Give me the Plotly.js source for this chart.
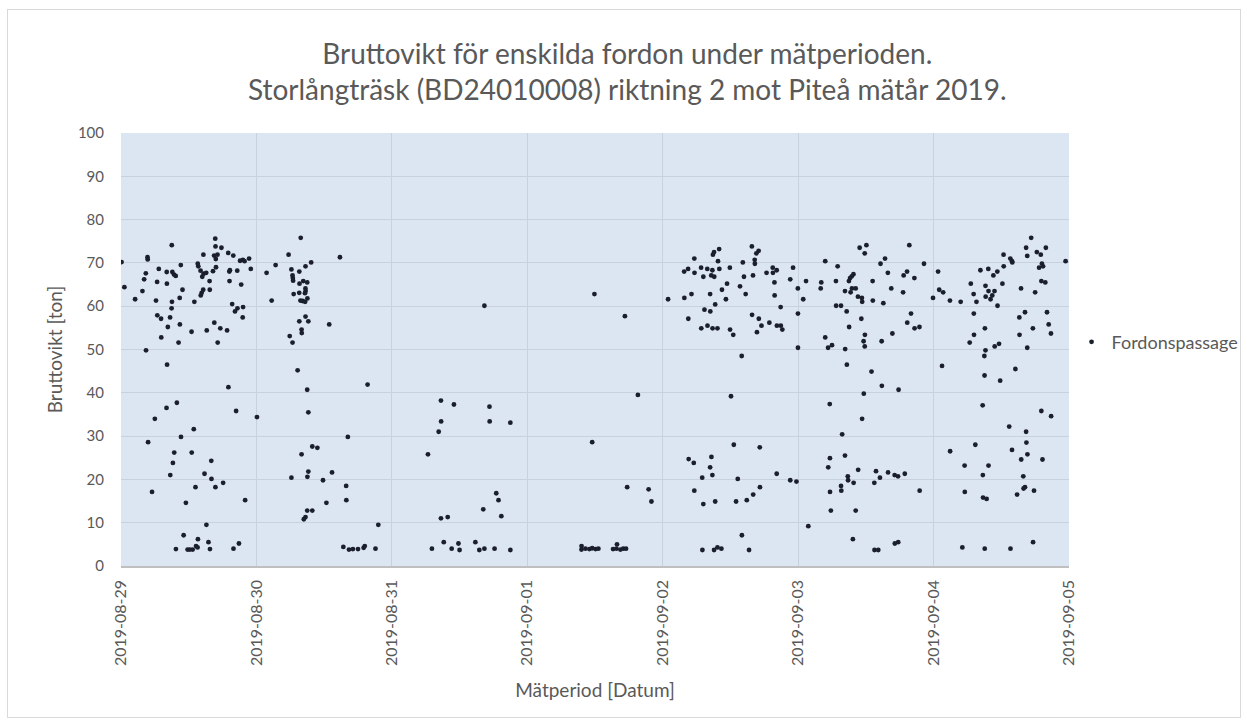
<!DOCTYPE html>
<html>
<head>
<meta charset="utf-8">
<script src="https://cdn.plot.ly/plotly-3.0.1.min.js"></script>
<style>
  html, body { margin: 0; padding: 0; background: #ffffff; }
  #chart { width: 1247px; height: 724px; }
  #frame { position: absolute; left: 7px; top: 9px; width: 1232px; height: 707px; border: 1px solid #d9d9d9; pointer-events: none; }
</style>
</head>
<body>
<div id="chart"></div>
<div id="frame"></div>
<script>
// Days of the measurement period (x-axis ticks)
const tickDays = ['2019-08-29','2019-08-30','2019-08-31','2019-09-01','2019-09-02','2019-09-03','2019-09-04','2019-09-05'];

// Passage time (hours after midnight of the given day) and gross weight [ton]
const day0829 = '2019-08-29';
const hours0829 = [0.1,9.0,16.7,16.75,17.8,4.7,4.73,14.6,16.5,16.8,17.1,19.0,19.9,21.1,21.6,21.9,22.7,10.6,13.6,13.7,16.83,6.7,8.1,9.1,9.4,9.7,4.4,14.1,14.63,15.1,16.3,19.2,19.3,20.6,23.0,25.8,4.1,6.4,8.13,14.4,15.7,19.23,21.3,0.6,3.8,10.9,14.57,14.3,14.13,15.73,2.5,6.2,9.03,10.4,13.0,19.7,8.97,20.63,20.2,21.63,6.43,7.1,8.7,21.57,10.43,8.3,12.5,15.2,16.53,17.6,18.8,7.13,10.2,17.13,4.43,8.17,19.03,9.9,8.07,20.4,24.1,6.0,12.9,10.63,4.8,9.43,12.53,9.2,16.0,8.73,14.8,16.03,18.1,13.2,16.73,5.5,22.0,11.5,15.13,11.1,13.63,15.5,20.9,13.3,13.57,9.73,11.8,12.2,12.7,15.77,19.93];
const weights0829 = [70.2,74.1,75.6,73.8,73.5,71.3,70.8,71.9,71.7,70.9,71.9,72.3,71.7,70.5,70.7,70.4,71.0,69.5,69.8,69.2,69.0,68.6,67.9,67.9,67.3,67.0,67.6,68.2,67.5,67.7,68.1,68.0,68.3,68.2,68.6,67.7,66.2,65.6,65.2,66.8,65.8,65.8,65.0,64.4,63.5,63.8,63.8,63.1,62.5,63.8,61.6,61.3,61.0,61.9,61.0,60.5,59.5,59.5,58.8,59.8,57.9,57.1,57.4,57.4,55.8,55.2,54.1,54.4,56.2,54.9,54.4,52.8,51.6,51.6,49.8,46.5,41.3,37.7,36.5,35.8,34.4,34.0,31.6,29.8,28.6,26.2,26.2,23.8,24.3,21.0,21.3,20.1,19.2,18.2,18.2,17.1,15.2,14.6,9.5,7.1,6.2,5.5,5.2,4.6,4.3,3.9,3.8,3.8,3.8,3.9,4.0];

const day0830 = '2019-08-30';
const hours0830 = [7.85,5.7,14.8,3.4,9.7,8.7,6.2,7.6,6.4,6.45,6.5,7.63,8.3,9.0,8.68,8.72,8.6,6.6,7.58,2.7,7.8,8.2,8.63,9.03,8.7,7.6,9.2,12.9,8.0,8.03,5.9,6.4,7.3,19.7,9.0,9.2,16.2,9.9,10.8,8.0,9.2,9.03,6.2,11.8,13.4,15.9,15.93,12.4,9.0,9.9,8.7,8.4,21.6,15.4,16.4,17.1,18.0,19.0,19.2,21.1];
const weights0830 = [75.8,71.9,71.3,69.5,70.1,69.2,68.5,68.0,67.1,66.5,65.9,65.2,65.8,65.5,64.1,63.5,63.0,62.8,63.1,61.3,61.3,61.2,61.0,61.8,57.6,56.5,56.5,55.8,54.6,53.8,53.1,51.6,45.2,41.9,40.7,35.5,29.8,27.6,27.3,25.8,21.8,20.6,20.4,19.8,21.6,18.5,15.2,14.6,12.8,12.8,11.3,10.8,9.5,4.4,3.8,3.9,3.9,4.2,4.6,4.0];

const day0831 = '2019-08-31';
const hours0831 = [16.4,8.7,11.0,17.3,8.73,17.33,21.0,8.3,6.4,18.5,18.9,16.2,19.4,8.7,9.9,9.2,11.8,14.8,7.1,10.6,12.0,15.5,16.4,18.2,21.0];
const weights0831 = [60.1,38.2,37.3,36.8,33.4,33.4,33.1,31.0,25.8,16.8,15.2,13.1,11.5,11.0,11.3,5.5,5.2,5.5,4.0,4.0,3.7,3.7,4.0,4.0,3.7];

const day0901 = '2019-09-01';
const hours0901 = [11.9,17.3,19.6,11.5,17.7,21.5,22.0,9.6,9.62,10.3,11.0,11.5,12.1,12.6,15.2,15.8,15.9,16.5,17.0,17.5];
const weights0901 = [62.8,57.7,39.5,28.6,18.2,17.7,14.9,3.8,4.6,4.0,3.9,4.1,3.9,4.0,3.9,4.0,5.0,3.8,4.0,4.0];

const day0902 = '2019-09-02';
const hours0902 = [0.95,15.8,10.0,9.1,8.9,17.0,16.6,5.6,16.3,16.33,9.8,14.2,23.1,19.5,20.2,19.53,18.4,6.8,7.9,8.8,10.03,11.9,4.5,3.8,5.63,7.2,8.6,9.13,14.4,16.0,22.6,19.8,11.4,13.7,10.5,5.1,8.4,14.7,19.83,3.83,11.2,9.3,20.9,7.4,8.43,15.83,4.53,17.03,18.9,17.5,20.23,20.93,21.2,6.83,7.93,8.83,9.7,11.93,12.5,16.7,14.0,12.1,12.6,17.2,4.6,5.5,8.63,8.4,8.8,7.0,13.3,20.2,22.6,23.7,5.6,17.23,16.03,7.2,9.3,13.0,14.9,14.03,7.03,9.1,9.7,10.4,15.3,23.95,23.96,23.97];
const weights0902 = [61.6,73.8,73.2,72.5,71.9,72.8,72.2,71.0,70.7,69.8,70.4,70.1,68.9,68.9,68.3,67.7,67.7,68.9,68.6,68.3,68.6,68.9,68.6,68.0,67.7,66.8,67.1,66.8,66.8,67.1,66.2,65.5,65.2,64.6,63.8,62.8,62.8,62.8,62.5,61.9,61.6,60.4,59.8,59.2,58.8,58.0,57.1,57.1,56.2,55.5,55.5,55.5,54.6,54.9,55.5,54.9,54.9,54.6,53.4,54.0,48.5,39.2,28.0,27.4,24.7,23.8,25.2,22.8,21.0,20.4,20.1,21.3,19.8,19.5,17.4,18.2,16.5,14.3,14.9,14.9,15.2,7.1,3.7,3.7,4.3,4.0,3.7,64.1,58.3,50.4];

const day0903 = '2019-09-03';
const hours0903 = [1.4,0.9,1.8,10.9,12.1,11.8,19.7,4.8,7.0,14.6,15.4,22.3,15.9,19.3,18.7,20.6,9.8,9.5,9.2,4.1,4.0,6.7,9.0,13.2,9.53,10.2,8.3,9.3,16.5,18.6,10.6,11.3,11.35,13.23,15.1,23.9,6.73,7.6,8.6,20.0,11.2,19.33,20.63,21.5,9.03,16.7,11.83,4.8,11.6,11.8,14.8,5.3,6.0,8.33,8.63,13.0,14.83,17.8,11.63,5.6,11.33,7.8,5.63,8.3,5.33,10.63,8.8,8.85,9.83,7.6,7.65,13.8,14.5,15.93,17.1,17.7,18.9,13.5,5.65,21.53,5.8,10.2,9.7,17.13,17.73,13.53,14.2];
const weights0903 = [65.8,61.6,9.2,73.5,74.1,72.2,74.1,70.4,69.2,69.8,71.0,69.8,67.7,68.0,67.1,66.5,67.4,66.9,66.5,65.5,64.1,65.8,65.8,65.8,64.1,64.1,63.5,63.2,64.1,63.2,62.2,61.9,61.0,61.3,60.7,61.9,60.1,60.1,58.8,58.3,57.1,56.2,54.9,55.2,55.2,53.7,53.4,52.8,51.9,50.7,51.9,50.4,51.0,50.1,46.5,44.9,41.6,40.7,39.8,37.4,34.0,30.4,24.9,25.5,22.8,22.2,20.7,19.8,19.2,18.5,17.4,21.9,20.4,21.6,21.0,20.7,21.3,19.2,17.1,17.4,12.8,12.8,6.2,5.2,5.5,3.7,3.7];

const day0904 = '2019-09-04';
const hours0904 = [0.8,17.3,16.4,16.6,18.3,19.0,19.9,12.4,13.6,13.9,13.95,19.2,19.4,18.7,23.4,12.43,8.3,9.7,11.3,10.6,19.1,19.8,6.6,12.2,9.2,1.0,1.7,15.5,9.73,10.8,7.1,9.23,10.1,10.4,18.0,2.9,4.8,7.6,11.33,7.13,16.2,15.2,20.1,20.4,9.1,17.6,20.8,7.16,15.23,6.4,10.83,11.6,16.6,9.2,9.0,1.5,14.5,9.03,11.8,8.7,19.1,20.83,13.4,16.4,16.45,7.4,2.93,13.9,16.63,15.53,19.3,5.5,9.73,8.73,15.9,16.2,15.95,17.8,14.8,5.53,8.76,9.4,17.63,5.1,9.06,13.63];
const weights0904 = [68.0,75.8,73.5,71.6,72.5,71.9,73.5,71.9,71.0,70.4,70.1,69.8,69.2,68.9,70.4,69.2,68.3,68.6,68.0,67.1,65.8,65.5,65.2,65.2,64.7,63.8,63.2,64.1,63.5,63.5,62.8,62.2,61.6,62.5,63.2,61.3,61.0,61.0,60.1,58.3,58.6,57.4,58.6,55.8,54.9,54.9,53.7,53.4,53.4,51.6,50.7,51.3,50.4,49.8,48.5,46.2,45.5,44.0,42.8,37.1,35.8,34.6,32.2,31.0,28.5,28.0,26.5,26.8,25.8,24.6,24.6,23.2,23.2,21.0,20.7,18.2,17.9,17.4,16.5,17.1,15.8,15.5,5.5,4.3,4.0,4.0];

const seriesName = 'Fordonspassage';

// Build timestamp strings from (day, hours) pairs
function stamps(day, hours) {
  const base = Date.parse(day + 'T00:00:00Z');
  return hours.map(h => new Date(base + Math.round(h * 60) * 60000).toISOString().slice(0, 19).replace('T', ' '));
}
const dayGroups = [
  [day0829, hours0829, weights0829],
  [day0830, hours0830, weights0830],
  [day0831, hours0831, weights0831],
  [day0901, hours0901, weights0901],
  [day0902, hours0902, weights0902],
  [day0903, hours0903, weights0903],
  [day0904, hours0904, weights0904]
];
let xs = [], ys = [];
dayGroups.forEach(([d, h, w]) => { xs = xs.concat(stamps(d, h)); ys = ys.concat(w); });

const grey = '#595959';
const font = 'Lato, "Open Sans", sans-serif';

const trace = {
  type: 'scatter',
  mode: 'markers',
  name: seriesName,
  x: xs,
  y: ys,
  marker: { size: 4.8, color: '#1a1f2b' },
  showlegend: true
};

const layout = {
  width: 1247,
  height: 724,
  margin: { l: 121, r: 178, t: 133, b: 158, autoexpand: false },
  paper_bgcolor: '#ffffff',
  plot_bgcolor: '#dce6f2',
  font: { family: font, color: grey },
  title: {
    text: 'Bruttovikt för enskilda fordon under mätperioden.<br>Storlångträsk (BD24010008) riktning 2 mot Piteå mätår 2019.',
    font: { family: font, size: 28, color: grey },
    x: 0.503, xref: 'container', xanchor: 'center',
    y: 0.912, yref: 'container', yanchor: 'middle'
  },
  xaxis: {
    type: 'date',
    range: [tickDays[0], tickDays[tickDays.length - 1]],
    tickvals: tickDays,
    ticktext: tickDays,
    tickangle: -90,
    tickfont: { family: font, size: 16, color: grey },
    ticks: '',
    ticklabelstandoff: 6,
    showgrid: true,
    gridcolor: '#c8d2de',
    gridwidth: 1,
    showline: true,
    linecolor: '#bfbfbf',
    linewidth: 1.5,
    zeroline: false,
    automargin: false,
    title: { text: 'Mätperiod [Datum]', font: { family: font, size: 19, color: grey }, standoff: 18 }
  },
  yaxis: {
    range: [0, 100],
    dtick: 10,
    tick0: 0,
    tickfont: { family: font, size: 15, color: grey },
    ticks: '',
    ticklabelstandoff: 16,
    showgrid: true,
    gridcolor: '#c8d2de',
    gridwidth: 1,
    zeroline: false,
    showline: false,
    automargin: false,
    title: { text: 'Bruttovikt [ton]', font: { family: font, size: 19, color: grey }, standoff: 10 }
  },
  showlegend: true,
  legend: {
    x: 1.0027, xanchor: 'left',
    y: 0.517, yanchor: 'middle',
    bgcolor: 'rgba(0,0,0,0)',
    font: { family: font, size: 18, color: grey }
  }
};

Plotly.newPlot('chart', [trace], layout, { displayModeBar: false, staticPlot: true });
</script>
</body>
</html>
